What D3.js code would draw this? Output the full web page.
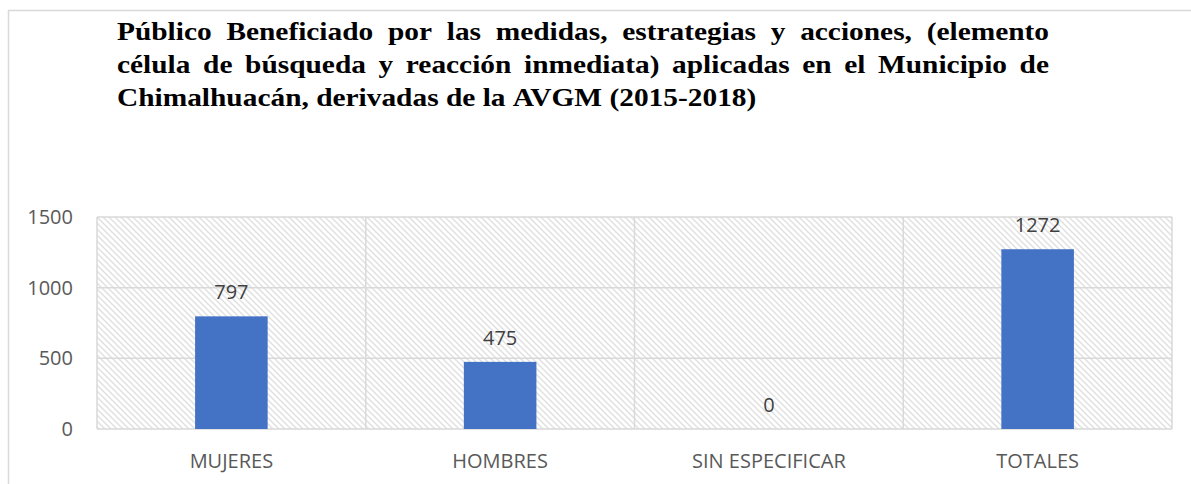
<!DOCTYPE html>
<html>
<head>
<meta charset="utf-8">
<script src="https://cdn.jsdelivr.net/npm/d3@7"></script>
<style>
  body { margin: 0; background: #fff; }
  svg { display: block; }
</style>
</head>
<body>
<div id="chart"></div>
<script>
// data
const categories = ["MUJERES", "HOMBRES", "SIN ESPECIFICAR", "TOTALES"];
const values = [797, 475, 0, 1272];
const yTicks = [0, 500, 1000, 1500];
const titleLines = [
  "Público Beneficiado por las medidas, estrategias y acciones, (elemento",
  "célula de búsqueda y reacción inmediata) aplicadas en el Municipio de",
  "Chimalhuacán, derivadas de la AVGM (2015-2018)"
];

const W = 1191, H = 484;
const plot = {left: 97, right: 1172, top: 217, bottom: 429};
const gridColor = "#d9d9d9";

const svg = d3.select("#chart").append("svg")
  .attr("width", W)
  .attr("height", H);

// hatch pattern for plot background
const defs = svg.append("defs");
const pat = defs.append("pattern")
  .attr("id", "hatch")
  .attr("patternUnits", "userSpaceOnUse")
  .attr("width", 6)
  .attr("height", 6);
pat.append("rect").attr("width", 6).attr("height", 6).attr("fill", "#fff");
pat.append("path")
  .attr("d", "M-1,-1 L7,7 M-1,5 L1,7 M5,-1 L7,1")
  .attr("stroke", "#e0e0e0")
  .attr("stroke-width", 1.4);

// chart area border (only top / left visible in the crop)
svg.append("rect")
  .attr("x", 8.5).attr("y", 10.5)
  .attr("width", 1300).attr("height", 600)
  .attr("fill", "none")
  .attr("stroke", gridColor)
  .attr("stroke-width", 1.5);

const x = d3.scaleBand()
  .domain(categories)
  .range([plot.left, plot.right])
  .paddingInner(0.73)
  .paddingOuter(0.365);

const y = d3.scaleLinear()
  .domain([0, 1500])
  .range([plot.bottom, plot.top]);

svg.append("rect")
  .attr("x", plot.left).attr("y", plot.top)
  .attr("width", plot.right - plot.left)
  .attr("height", plot.bottom - plot.top)
  .attr("fill", "url(#hatch)");

// horizontal gridlines
svg.append("g")
  .selectAll("line")
  .data(yTicks)
  .enter().append("line")
    .attr("x1", plot.left).attr("x2", plot.right)
    .attr("y1", d => y(d)).attr("y2", d => y(d))
    .attr("stroke", gridColor)
    .attr("stroke-width", 1.5);

// vertical gridlines at category boundaries
const step = x.step();
const bounds = d3.range(categories.length + 1).map(i => plot.left + i * step);
svg.append("g")
  .selectAll("line")
  .data(bounds)
  .enter().append("line")
    .attr("x1", d => d).attr("x2", d => d)
    .attr("y1", plot.top).attr("y2", plot.bottom)
    .attr("stroke", gridColor)
    .attr("stroke-width", 1.5);

// bars
svg.append("g")
  .selectAll("rect")
  .data(values)
  .enter().append("rect")
    .attr("x", (d, i) => x(categories[i]))
    .attr("y", d => y(d))
    .attr("width", x.bandwidth())
    .attr("height", d => y(0) - y(d))
    .attr("fill", "#4472c4");

// value labels
svg.append("g")
  .selectAll("text")
  .data(values)
  .enter().append("text")
    .attr("x", (d, i) => x(categories[i]) + x.bandwidth() / 2)
    .attr("y", d => y(d) - 17)
    .attr("text-anchor", "middle")
    .style("font-family", "'Open Sans', sans-serif")
    .style("font-size", "20px")
    .style("fill", "#404040")
    .text(d => d);

// y axis labels
svg.append("g")
  .selectAll("text")
  .data(yTicks)
  .enter().append("text")
    .attr("x", 73)
    .attr("y", d => y(d) + 7)
    .attr("text-anchor", "end")
    .style("font-family", "'Open Sans', sans-serif")
    .style("font-size", "20px")
    .style("fill", "#595959")
    .text(d => d);

// category labels
svg.append("g")
  .selectAll("text")
  .data(categories)
  .enter().append("text")
    .attr("x", d => x(d) + x.bandwidth() / 2)
    .attr("y", 468)
    .attr("text-anchor", "middle")
    .style("font-family", "'Open Sans', sans-serif")
    .style("font-size", "20px")
    .style("fill", "#595959")
    .text(d => d);

// title: the picture is a bit stretched sideways, so scale x,
// then justify lines 1-2 between the left and right edges
const tLeft = 117, tRight = 1049, lastWidth = 638;
const fs = 25.5;
const title = svg.append("g")
  .style("font-family", "'Liberation Serif', 'Times New Roman', serif")
  .style("font-weight", "bold")
  .style("font-size", fs + "px")
  .style("fill", "#000");

const probe = title.append("text").text(titleLines[titleLines.length - 1]);
const sx = lastWidth / probe.node().getComputedTextLength();
probe.remove();
title.attr("transform", `translate(${tLeft},0) scale(${sx},1)`);
const lineW = (tRight - tLeft) / sx;

titleLines.forEach((line, li) => {
  const words = line.split(" ");
  const baseY = 40 + li * 33;
  const nodes = words.map(w => title.append("text").attr("y", baseY).text(w));
  const widths = nodes.map(n => n.node().getComputedTextLength());
  const total = d3.sum(widths);
  const last = li === titleLines.length - 1;
  const gap = last ? fs * 0.25 : (lineW - total) / (words.length - 1);
  let cx = 0;
  nodes.forEach((n, i) => {
    n.attr("x", cx);
    cx += widths[i] + gap;
  });
});
</script>
</body>
</html>
